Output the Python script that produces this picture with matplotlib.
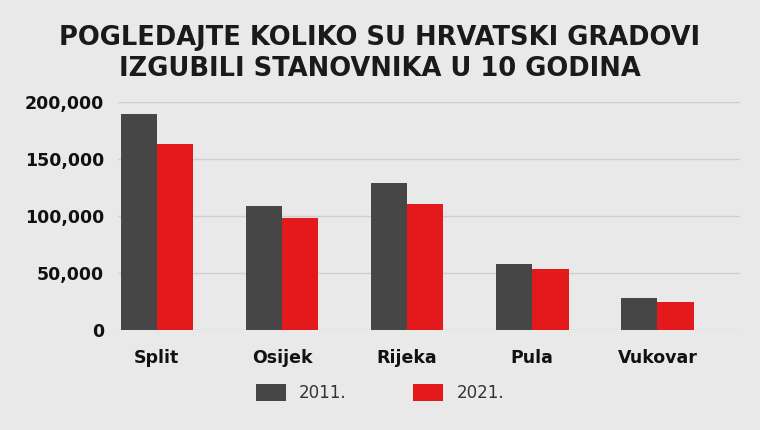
import matplotlib.pyplot as plt
import numpy as np
from matplotlib.ticker import FuncFormatter

cities = ["Split", "Osijek", "Rijeka", "Pula", "Vukovar"]
v2011 = [189000, 109000, 129000, 58000, 28000]
v2021 = [163000, 98000, 110000, 53500, 24500]
series = ["2011.", "2021."]

fig = plt.figure(figsize=(7.6, 4.3), dpi=100)
fig.patch.set_facecolor("#e9e9e9")
ax = fig.add_axes([118/760, 0.233, (740-118)/760, 0.53])
ax.set_facecolor("none")
x = np.arange(len(cities))
w = 0.29
ax.bar(x - w/2, v2011, w, color="#464646", label=series[0], zorder=3)
ax.bar(x + w/2, v2021, w, color="#e3191b", label=series[1], zorder=3)
ax.set_ylim(0, 200000)
ax.set_xlim(-0.31, 4.66)
ax.set_yticks(range(0, 200001, 50000))
ax.yaxis.set_major_formatter(FuncFormatter(lambda v, p: f"{int(v):,}"))
ax.grid(axis="y", color="#cfcfcf", lw=1, zorder=0)
for s in ax.spines.values():
    s.set_visible(False)
ax.tick_params(length=0, labelsize=12.5, colors="#111111")
ax.set_xticks(x)
ax.set_xticklabels(cities, fontweight="bold")
for t in ax.get_yticklabels():
    t.set_fontweight("bold")
ax.tick_params(axis="x", pad=14)
ax.tick_params(axis="y", pad=10)
fig.text(0.5, 0.875, "POGLEDAJTE KOLIKO SU HRVATSKI GRADOVI\nIZGUBILI STANOVNIKA U 10 GODINA",
         ha="center", va="center", fontsize=18.5, fontweight="bold", color="#1a1a1a",
         linespacing=1.25, family="DejaVu Sans")
fig.legend(loc="lower center", bbox_to_anchor=(0.5, 0.03), ncol=2, frameon=False,
           fontsize=12, handlelength=1.8, handleheight=1.2, columnspacing=4,
           labelcolor="#333333")
fig.savefig("out.png", dpi=100, facecolor=fig.get_facecolor())
